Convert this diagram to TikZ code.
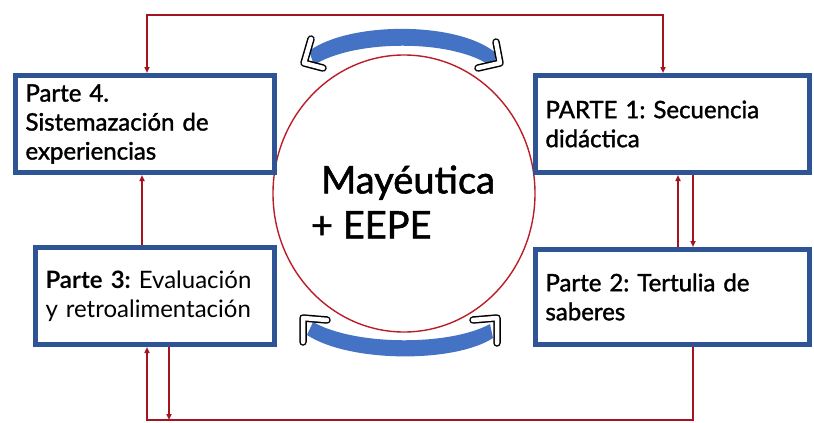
\documentclass[tikz,border=0pt]{standalone}
\usepackage{fontspec}
\setmainfont{Lato}
\newfontfamily\medfont{Lato}[FakeBold=1.5]
\usetikzlibrary{positioning,arrows.meta}
\definecolor{boxblue}{RGB}{47,84,150}
\definecolor{arcblue}{RGB}{68,114,196}
\definecolor{linered}{RGB}{165,20,30}
\definecolor{ringred}{RGB}{185,30,40}
\frenchspacing

\tikzset{
  parte/.style={draw=boxblue, line width=5pt, fill=white, inner xsep=10pt, inner ysep=0pt,
    align=left, font=\medfont\fontsize{24}{29}\selectfont},
  flow/.style={draw=linered, line width=1.6pt},
  tip/.style={-{Triangle[length=6pt,width=5pt]}},
  twotip/.style={{Triangle[length=6pt,width=5pt]}-{Triangle[length=6pt,width=5pt]}},
  chev/.style={draw=black, line width=1.5pt, double=white, double distance=4.5pt,
    line join=round, line cap=round},
}

\begin{document}
\begin{tikzpicture}[x=1pt, y=-1pt]
\useasboundingbox (0,0) rectangle (814,423);

% ring and its two curved arrows
\draw[color=ringred, line width=1.4pt] (404,193.5) ellipse [x radius=131, y radius=138.5];
\node[font=\medfont\fontsize{38}{45}\selectfont, align=left] (hub) at (403,202) {\hspace*{10pt}Mayéutica\\+ EEPE};

\fill[arcblue] (309,51) .. controls (350,21) and (460,21) .. (497,54)
  -- (492,67) .. controls (455,39) and (355,39) .. (314,65) -- cycle;
\draw[chev] (311,39) -- (304,63) -- (323,68);
\draw[chev] (496,42) -- (500,63) -- (478,68);

\fill[arcblue] (313,322) .. controls (355,346) and (450,346) .. (490,324)
  -- (493,338) .. controls (455,363) and (350,363) .. (307,335) -- cycle;
\draw[chev] (303,342) -- (303,318) -- (327,320);
\draw[chev] (497,343) -- (497,318) -- (473,320);

% the four parts
\node[parte, text width=239pt, minimum height=97pt] (p4) at (145,124)
  {Parte 4.\\Sistemazación de\\experiencias};
\node[parte, text width=254pt, minimum height=97pt] (p1) at (672.5,124)
  {PARTE 1: Secuencia\\didáctica};
\node[parte, text width=254pt, minimum height=95pt] (p2) at (672.5,297)
  {Parte 2: Tertulia de\\saberes};
\node[parte, text width=219pt, minimum height=97pt, font=\fontsize{24}{29}\selectfont] (p3) at (155,296)
  {\textbf{Parte 3:} Evaluación\\y retroalimentación};

\coordinate (topline) at (400,15);
\coordinate (bottomline) at (400,420);

\draw[flow, twotip] ([xshift=2pt]p4.north) |- (topline) -| ([xshift=-9.5pt]p1.north);
\draw[flow, tip] ([xshift=5.5pt]p2.north) -- ([xshift=5.5pt]p1.south);
\draw[flow, tip] ([xshift=20.5pt]p1.south) -- ([xshift=20.5pt]p2.north);
\draw[flow, tip] ([xshift=20.5pt]p2.south) |- (bottomline) -| ([xshift=-8pt]p3.south);
\draw[flow, tip] ([xshift=14pt]p3.south) -- ([xshift=14pt]p3.south |- bottomline);
\draw[flow, tip] ([xshift=-13pt]p3.north) -- ([xshift=-13pt]p3.north |- p4.south);

\end{tikzpicture}
\end{document}
